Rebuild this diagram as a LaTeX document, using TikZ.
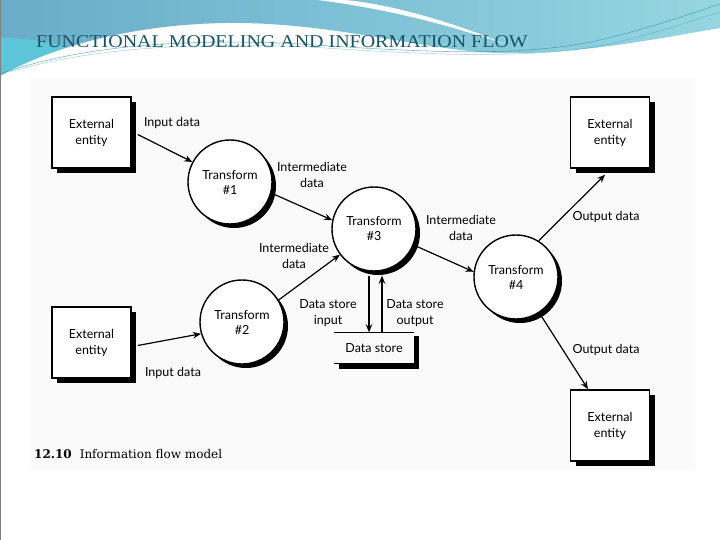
\documentclass[tikz,border=0pt]{standalone}
\usepackage{fontspec}
\setmainfont{Liberation Serif}
\newfontfamily\flowfont{Lato}
\newfontfamily\capfont{DejaVu Serif}
\usetikzlibrary{arrows.meta,positioning,calc,shadows}
\definecolor{titleteal}{RGB}{24,84,104}
\definecolor{waveA}{RGB}{104,172,200}
\definecolor{waveB}{RGB}{150,214,226}
\definecolor{waveC}{RGB}{84,214,226}
\definecolor{strand}{RGB}{40,140,160}
\definecolor{panel}{RGB}{250,250,250}

\begin{document}
\begin{tikzpicture}[x=1pt,y=-1pt,
  entity/.style={draw, line width=1.6pt, fill=white, minimum width=79pt,
    minimum height=71pt, align=center, font=\flowfont\fontsize{12.5}{16}\selectfont,
    drop shadow={shadow xshift=5pt, shadow yshift=-5pt, fill=black, opacity=1}},
  bubble/.style={circle, draw, line width=1.4pt, fill=white, minimum size=84pt,
    inner sep=0pt, align=center, font=\flowfont\fontsize{12.5}{15}\selectfont,
    drop shadow={shadow xshift=4pt, shadow yshift=-4pt, fill=black, opacity=1}},
  storebox/.style={minimum width=79pt, minimum height=31pt, inner sep=0pt,
    font=\flowfont\fontsize{12.5}{15}\selectfont},
  lbl/.style={align=center, inner sep=1pt, font=\flowfont\fontsize{12.5}{16.5}\selectfont},
  dataflow/.style={-{Stealth[length=8pt,width=6.5pt]}, line width=1.2pt}]
  \useasboundingbox (0,0) rectangle (720,540);

  % slide background
  \fill[white] (0,0) rectangle (720,540);
  \shade[left color=waveA, right color=waveB] (0,0) -- (720,0) -- (720,28)
    .. controls (650,40) and (560,58) .. (480,52)
    .. controls (410,46) and (330,24) .. (240,23)
    .. controls (150,22) and (60,42) .. (0,76) -- cycle;
  \begin{scope}
    \clip (0,0) -- (240,0) -- (240,23) .. controls (150,22) and (60,42) .. (0,76) -- cycle;
    \fill[waveC, opacity=.6] (0,80) ellipse (110 and 42);
  \end{scope}
  \fill[white] (318,0) .. controls (380,8) and (440,22) .. (505,44)
    .. controls (440,17) and (380,3) .. (345,0) -- cycle;
  \draw[strand, opacity=.6, line width=.6pt] (0,74) .. controls (80,46) and (180,38) .. (300,44)
    .. controls (420,52) and (520,58) .. (600,40) .. controls (650,28) and (690,14) .. (720,4);
  \draw[strand, opacity=.4, line width=.5pt] (10,72) .. controls (90,48) and (190,42) .. (310,47)
    .. controls (430,55) and (530,60) .. (610,44) .. controls (660,32) and (695,20) .. (720,12);
  \fill[panel] (30,78) rectangle (695,470);
  \draw[gray, line width=1pt] (0,0) rectangle (720,540);

  \node[anchor=base west, text=titleteal, font=\fontsize{18}{20}\selectfont, inner sep=0pt]
    (title) at (36,48) {\scalebox{1.11}[1]{FUNCTIONAL MODELING AND INFORMATION FLOW}};

  % external entities
  \node[entity] (srcA) at (91.5,132.5) {External\\entity};
  \node[entity] (srcB) at (91.5,342.5) {External\\entity};
  \node[entity] (sinkA) at (610,132.5) {External\\entity};
  \node[entity] (sinkB) at (610,425.5) {External\\entity};

  % transforms
  \node[bubble] (t1) at (230,182) {Transform\\\#1};
  \node[bubble] (t2) at (242,322) {Transform\\\#2};
  \node[bubble] (t3) at (374,229) {Transform\\\#3};
  \node[bubble] (t4) at (516,277) {Transform\\\#4};

  % data store
  \node[storebox] (store) at (374,348) {Data store};
  \fill ([yshift=-4pt]store.north east) rectangle ([xshift=5pt,yshift=-5pt]store.south east);
  \fill ([xshift=5pt]store.south west) rectangle ([xshift=5pt,yshift=-5pt]store.south east);
  \draw[line width=1.3pt] (store.north west) -- (store.north east);
  \draw[line width=1.3pt] (store.south west) -- (store.south east);

  % flows
  \draw[dataflow] ([xshift=6pt,yshift=-2pt]srcA.east) -- (t1.152);
  \draw[dataflow] ([xshift=6pt,yshift=-3pt]srcB.east) -- (t2.196);
  \draw[dataflow] (t1.-15) -- (t3.168);
  \draw[dataflow] (t2.31) -- (t3.217);
  \draw[dataflow] (t3.-22) -- (t4.173);
  \draw[dataflow] (t4.58) -- ([xshift=-5pt,yshift=-6pt]sinkA.south);
  \draw[dataflow] (t4.-57) -- ([xshift=-22pt]sinkB.north);
  \draw[dataflow, line width=2pt] ([xshift=-5pt,yshift=-4pt]t3.south) -- ([xshift=-5pt]store.north);
  \draw[dataflow] ([xshift=8pt]store.north) -- ([xshift=8pt,yshift=-4pt]t3.south);

  % flow labels
  \node[lbl] (inA) at (172,123) {Input data};
  \node[lbl] (inB) at (173,373) {Input data};
  \node[lbl] (midA) at (312,175) {Intermediate\\data};
  \node[lbl] (midB) at (294,256) {Intermediate\\data};
  \node[lbl] (midC) at (461,228) {Intermediate\\data};
  \node[lbl] (outA) at (606,217) {Output data};
  \node[lbl] (outB) at (606,350) {Output data};
  \node[lbl] (dsin) at (328,313) {Data store\\input};
  \node[lbl] (dsout) at (415,313) {Data store\\output};

  \node[anchor=base west, inner sep=0pt, font=\capfont\fontsize{12}{14}\selectfont]
    (caption) at (34,458) {\textbf{12.10}\hspace{8pt}Information flow model};
\end{tikzpicture}
\end{document}
